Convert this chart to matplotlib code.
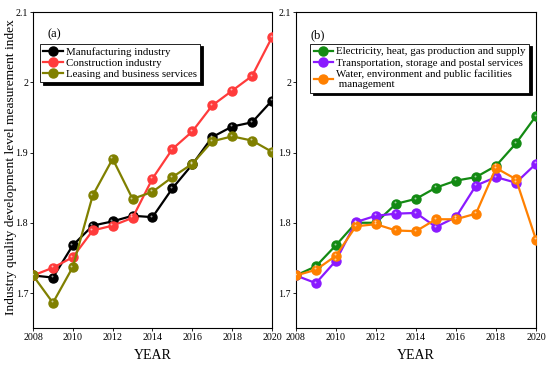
import matplotlib
matplotlib.use('Agg')
import matplotlib.pyplot as plt
from matplotlib.transforms import offset_copy

plt.rcParams['font.family'] = ['Liberation Serif', 'DejaVu Serif']

years = list(range(2008, 2021))

# panel (a)
manufacturing = [1.725, 1.722, 1.768, 1.796, 1.802, 1.810, 1.808, 1.849, 1.883, 1.922, 1.937, 1.943, 1.974]
construction = [1.725, 1.736, 1.751, 1.789, 1.796, 1.807, 1.863, 1.905, 1.930, 1.967, 1.988, 2.009, 2.064]
leasing = [1.725, 1.686, 1.737, 1.839, 1.891, 1.834, 1.844, 1.865, 1.884, 1.916, 1.923, 1.917, 1.901]

# panel (b)
electricity = [1.725, 1.738, 1.768, 1.800, 1.800, 1.827, 1.834, 1.850, 1.860, 1.865, 1.881, 1.913, 1.952]
transport = [1.725, 1.714, 1.746, 1.801, 1.810, 1.813, 1.814, 1.794, 1.808, 1.853, 1.865, 1.857, 1.884]
water = [1.725, 1.733, 1.753, 1.795, 1.798, 1.789, 1.788, 1.805, 1.805, 1.813, 1.878, 1.862, 1.776]

labels_a = ['Manufacturing industry', 'Construction industry', 'Leasing and business services']
labels_b = ['Electricity, heat, gas production and supply',
            'Transportation, storage and postal services',
            'Water, environment and public facilities\n management']
colors_a = ['black', '#ff3b3b', '#808000']
colors_b = ['#138a13', '#8a1aff', '#ff8000']

fig = plt.figure(figsize=(5.5, 3.65), dpi=100)
ax1 = fig.add_axes([0.06, 0.101, 0.4345, 0.866])
ax2 = fig.add_axes([0.538, 0.101, 0.4365, 0.866])


def draw(ax, series, labels, colors):
    hl = offset_copy(ax.transData, fig=fig, x=-1.0, y=1.0, units='points')
    for vals, lab, c in zip(series, labels, colors):
        ax.plot(years, vals, '-o', color=c, lw=1.6, ms=6.5, mec=c, mfc=c, label=lab, zorder=3)
        ax.plot(years, vals, 'o', color='white', mec='none', ms=1.4, alpha=0.6, transform=hl, zorder=4)
    ax.set_xlim(2008, 2020)
    ax.set_ylim(1.65, 2.1)
    ax.set_xticks(range(2008, 2021, 2))
    ax.set_yticks([1.7, 1.8, 1.9, 2.0, 2.1])
    ax.set_yticklabels(['1.7', '1.8', '1.9', '2', '2.1'])
    ax.tick_params(labelsize=7.2, length=2, width=0.6, direction='out', pad=1.5)
    for s in ax.spines.values():
        s.set_linewidth(0.8)
    ax.set_xlabel('YEAR', fontsize=10, labelpad=5)


draw(ax1, [manufacturing, construction, leasing], labels_a, colors_a)
draw(ax2, [electricity, transport, water], labels_b, colors_b)

fig.text(0.02, 0.541, 'Industry quality development level measurement index',
         rotation=90, fontsize=9.6, ha='center', va='center')
ax1.text(0.06, 0.93, '(a)', transform=ax1.transAxes, fontsize=9, va='center')
ax2.text(0.06, 0.925, '(b)', transform=ax2.transAxes, fontsize=9, va='center')

for ax, anchor in [(ax1, (0.03, 0.9)), (ax2, (0.06, 0.9))]:
    leg = ax.legend(loc='upper left', bbox_to_anchor=anchor, fontsize=7.8, fancybox=False,
                    shadow={'color': 'black', 'alpha': 1}, framealpha=1, edgecolor='black',
                    borderpad=0.3, labelspacing=0.15, handlelength=1.8, handletextpad=0.3,
                    borderaxespad=0)
    leg.get_frame().set_linewidth(0.6)

fig.savefig('out.png', dpi=100)
